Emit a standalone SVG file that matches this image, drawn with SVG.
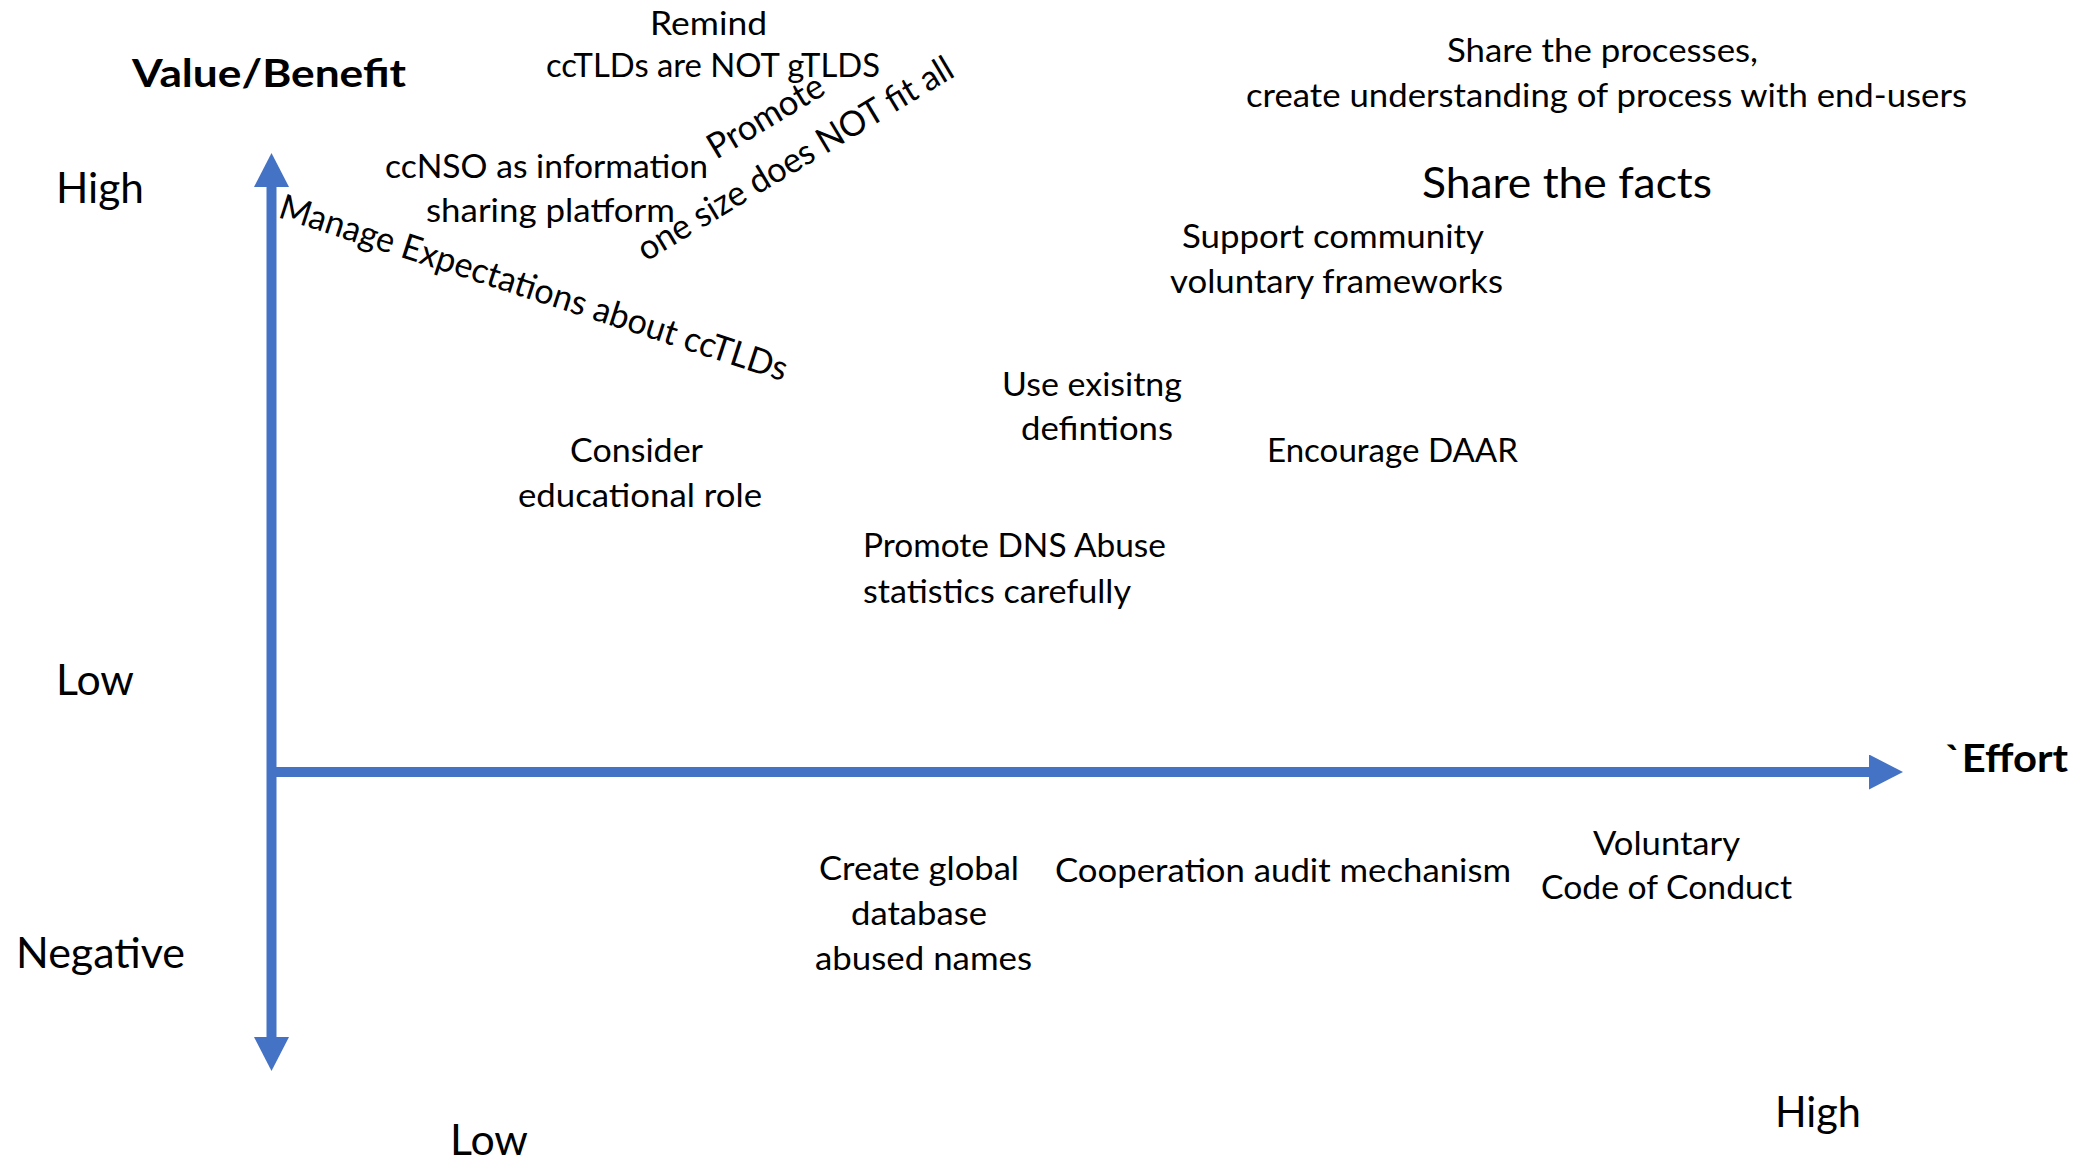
<svg xmlns="http://www.w3.org/2000/svg" width="2094" height="1161" viewBox="0 0 2094 1161">
  <style>
    .t { font-family: Lato, "Open Sans", "Liberation Sans", sans-serif; font-size: 33px; fill: #000; }
    .rot { font-size: 35px; }
    .big { font-size: 42px; }
    .bold { font-weight: bold; font-size: 39px; }
    .axis { stroke: #4472C4; stroke-width: 10; fill: none; }
  </style>
  <defs>
    <marker id="arrow" viewBox="0 0 34 35" refX="0" refY="17.5" markerWidth="34" markerHeight="35" markerUnits="userSpaceOnUse" orient="auto-start-reverse">
      <path d="M0,0 L34,17.5 L0,35 Z" fill="#4472C4"/>
    </marker>
  </defs>
  <rect width="2094" height="1161" fill="#ffffff"/>

  <g id="connectors">
    <line class="axis" x1="271.5" y1="187" x2="271.5" y2="1037" marker-start="url(#arrow)" marker-end="url(#arrow)"/>
    <line class="axis" x1="271.5" y1="772" x2="1869" y2="772" marker-end="url(#arrow)"/>
  </g>

  <g id="label-value-benefit"><text class="t bold" x="132" y="87" textLength="274" lengthAdjust="spacingAndGlyphs">Value/Benefit</text></g>
  <g id="label-effort"><text class="t bold" x="1945" y="772" textLength="123" lengthAdjust="spacingAndGlyphs">`Effort</text></g>

  <g id="label-high-left"><text class="t big" x="56" y="203" textLength="88" lengthAdjust="spacingAndGlyphs">High</text></g>
  <g id="label-low-left"><text class="t big" x="56" y="695" textLength="78" lengthAdjust="spacingAndGlyphs">Low</text></g>
  <g id="label-negative"><text class="t big" x="16" y="968" textLength="169" lengthAdjust="spacingAndGlyphs">Negative</text></g>
  <g id="label-low-bottom"><text class="t big" x="450" y="1155" textLength="78" lengthAdjust="spacingAndGlyphs">Low</text></g>
  <g id="label-high-bottom"><text class="t big" x="1775" y="1127" textLength="86" lengthAdjust="spacingAndGlyphs">High</text></g>

  <g id="node-remind">
    <text class="t" x="650" y="35" textLength="117" lengthAdjust="spacingAndGlyphs">Remind</text>
    <text class="t" x="546" y="77" textLength="334" lengthAdjust="spacingAndGlyphs">ccTLDs are NOT gTLDS</text>
  </g>

  <g id="node-ccnso">
    <text class="t" x="385" y="178" textLength="323" lengthAdjust="spacingAndGlyphs">ccNSO as information</text>
    <text class="t" x="426" y="222" textLength="249" lengthAdjust="spacingAndGlyphs">sharing platform</text>
  </g>

  <g id="node-promote-one-size">
    <text class="t rot" transform="translate(716,160) rotate(-31)" x="0" y="0" textLength="130" lengthAdjust="spacingAndGlyphs">Promote</text>
    <text class="t rot" transform="translate(646,262) rotate(-31)" x="0" y="0" textLength="362" lengthAdjust="spacingAndGlyphs">one size does NOT fit all</text>
  </g>

  <g id="node-manage-expectations">
    <text class="t rot" transform="translate(277,217) rotate(18)" x="0" y="0" textLength="532" lengthAdjust="spacingAndGlyphs">Manage Expectations about ccTLDs</text>
  </g>

  <g id="node-share-processes">
    <text class="t" x="1447" y="62" textLength="311" lengthAdjust="spacingAndGlyphs">Share the processes,</text>
    <text class="t" x="1246" y="107" textLength="721" lengthAdjust="spacingAndGlyphs">create understanding of process with end-users</text>
  </g>

  <g id="node-share-facts">
    <text class="t big" x="1422" y="198" textLength="290" lengthAdjust="spacingAndGlyphs">Share the facts</text>
  </g>

  <g id="node-support-community">
    <text class="t" x="1182" y="248" textLength="302" lengthAdjust="spacingAndGlyphs">Support community</text>
    <text class="t" x="1170" y="293" textLength="333" lengthAdjust="spacingAndGlyphs">voluntary frameworks</text>
  </g>

  <g id="node-use-existing">
    <text class="t" x="1002" y="396" textLength="180" lengthAdjust="spacingAndGlyphs">Use exisitng</text>
    <text class="t" x="1021" y="440" textLength="152" lengthAdjust="spacingAndGlyphs">defintions</text>
  </g>

  <g id="node-consider">
    <text class="t" x="570" y="462" textLength="133" lengthAdjust="spacingAndGlyphs">Consider</text>
    <text class="t" x="518" y="507" textLength="244" lengthAdjust="spacingAndGlyphs">educational role</text>
  </g>

  <g id="node-encourage-daar">
    <text class="t" x="1267" y="462" textLength="251" lengthAdjust="spacingAndGlyphs">Encourage DAAR</text>
  </g>

  <g id="node-promote-dns">
    <text class="t" x="863" y="557" textLength="303" lengthAdjust="spacingAndGlyphs">Promote DNS Abuse</text>
    <text class="t" x="863" y="603" textLength="268" lengthAdjust="spacingAndGlyphs">statistics carefully</text>
  </g>

  <g id="node-create-global">
    <text class="t" x="819" y="880" textLength="200" lengthAdjust="spacingAndGlyphs">Create global</text>
    <text class="t" x="851" y="925" textLength="136" lengthAdjust="spacingAndGlyphs">database</text>
    <text class="t" x="815" y="970" textLength="217" lengthAdjust="spacingAndGlyphs">abused names</text>
  </g>

  <g id="node-cooperation">
    <text class="t" x="1055" y="882" textLength="456" lengthAdjust="spacingAndGlyphs">Cooperation audit mechanism</text>
  </g>

  <g id="node-voluntary-code">
    <text class="t" x="1593" y="855" textLength="147" lengthAdjust="spacingAndGlyphs">Voluntary</text>
    <text class="t" x="1541" y="899" textLength="251" lengthAdjust="spacingAndGlyphs">Code of Conduct</text>
  </g>
</svg>
